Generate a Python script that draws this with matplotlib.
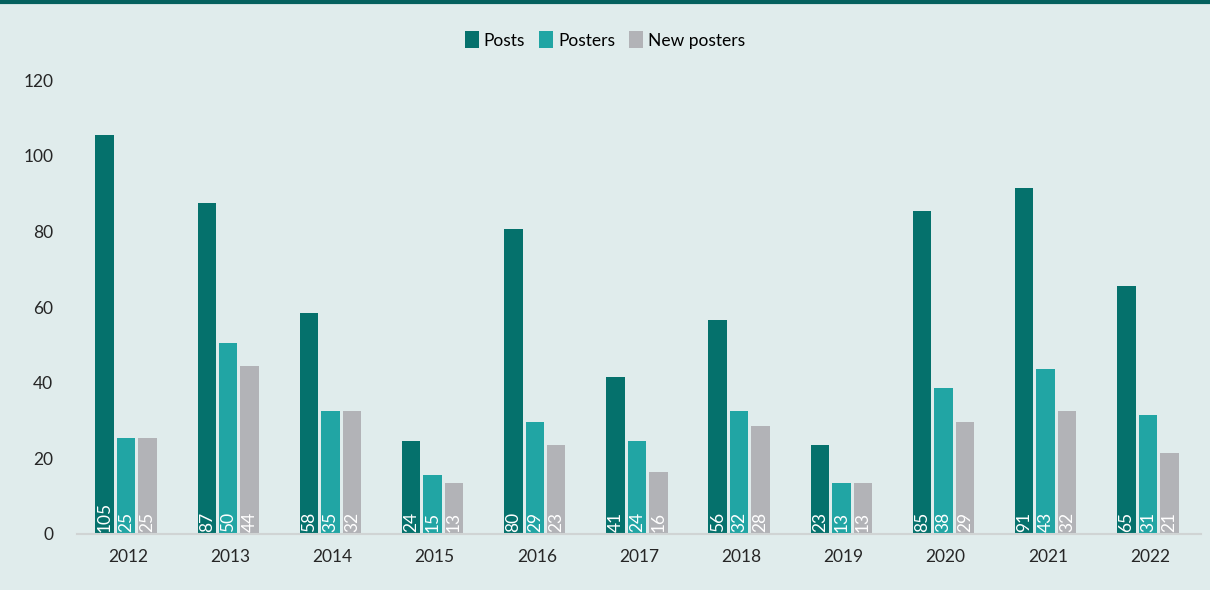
import numpy as np
import matplotlib.pyplot as plt

plt.rcParams['font.family'] = ['Lato', 'DejaVu Sans']

years = ['2012', '2013', '2014', '2015', '2016', '2017', '2018', '2019', '2020', '2021', '2022']
posts = [105.5, 87.5, 58.5, 24.5, 80.5, 41.5, 56.5, 23.5, 85.5, 91.5, 65.5]
posters = [25.5, 50.5, 32.5, 15.5, 29.5, 24.5, 32.5, 13.5, 38.5, 43.5, 31.5]
new_posters = [25.5, 44.5, 32.5, 13.5, 23.5, 16.5, 28.5, 13.5, 29.5, 32.5, 21.5]
posts_lbl = [105, 87, 58, 24, 80, 41, 56, 23, 85, 91, 65]
posters_lbl = [25, 50, 35, 15, 29, 24, 32, 13, 38, 43, 31]
new_lbl = [25, 44, 32, 13, 23, 16, 28, 13, 29, 32, 21]

bg = '#E0ECEC'
c_posts = '#05716C'
c_posters = '#21A5A4'
c_new = '#B2B3B7'

fig = plt.figure(figsize=(12.1, 5.9), dpi=100, facecolor=bg)
ax = fig.add_axes([77 / 1210, (590 - 534) / 590, (1201 - 77) / 1210, (534 - 80) / 590])
ax.set_facecolor(bg)

x = np.arange(len(years))
w = 0.18
step = 0.21
series = [(posts, posts_lbl, c_posts, 'Posts'),
          (posters, posters_lbl, c_posters, 'Posters'),
          (new_posters, new_lbl, c_new, 'New posters')]
for i, (vals, lbls, col, name) in enumerate(series):
    xs = x + (i - 1) * step - 0.02
    ax.bar(xs, vals, width=w, color=col, label=name)
    for xi, lb in zip(xs, lbls):
        ax.text(xi, 0.6, str(lb), rotation=90, ha='center', va='bottom',
                color='white', fontsize=12.5)

ax.set_xlim(-0.5, len(years) - 0.5)
ax.set_ylim(0, 120)
ax.set_yticks(range(0, 121, 20))
ax.set_xticks(x)
ax.set_xticklabels(years)
ax.tick_params(axis='both', length=0, labelsize=12.5, colors='#262626')
ax.tick_params(axis='x', pad=11)
ax.tick_params(axis='y', pad=17)
for s in ['top', 'right', 'left']:
    ax.spines[s].set_visible(False)
ax.spines['bottom'].set_color('#D0D4D4')
ax.spines['bottom'].set_linewidth(1.5)

fig.legend(loc='center', bbox_to_anchor=(0.5, 1 - 40 / 590), ncol=3, frameon=False,
           fontsize=12.5, handlelength=0.8, handleheight=1.1, handletextpad=0.3,
           columnspacing=0.8)

# top accent line
fig.add_artist(plt.Line2D([0, 1], [0.997, 0.997], color='#05615E', linewidth=3,
                          transform=fig.transFigure))

fig.savefig('out.png', dpi=100, facecolor=bg)
